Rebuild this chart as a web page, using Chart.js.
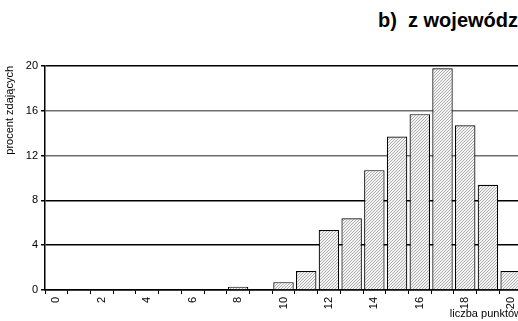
<!DOCTYPE html>
<html>
<head>
<meta charset="utf-8">
<script src="https://cdn.jsdelivr.net/npm/chart.js@4"></script>
<style>
    html, body { margin: 0; padding: 0; background: #fff; overflow: hidden; width: 518px; height: 321px; }
    #tytul { position: absolute; left: 378px; top: 10px; font: bold 20px/20px "Liberation Sans", Arial, sans-serif; white-space: pre; color: #000; }
    #kontener { position: absolute; left: 0; top: 0; width: 530px; height: 321px; }
</style>
</head>
<body>
<div id="tytul">b)  z województwa</div>
<div id="kontener"><canvas id="wykres"></canvas></div>
<script>
// dane
const kategorie = ['0', '1', '2', '3', '4', '5', '6', '7', '8', '9', '10', '11', '12', '13', '14', '15', '16', '17', '18', '19', '20'];
const procent = [0, 0, 0, 0, 0, 0, 0, 0, 0.3, 0, 0.7, 1.7, 5.35, 6.4, 10.7, 13.7, 15.7, 19.8, 14.7, 9.4, 1.7];
const podzialkaY = [0, 4, 8, 12, 16, 20];

function wzorKreskowania() {
    const c = document.createElement('canvas');
    c.width = 3;
    c.height = 3;
    const g = c.getContext('2d');
    g.fillStyle = '#f4f4f4';
    g.fillRect(0, 0, 3, 3);
    g.strokeStyle = '#9a9a9a';
    g.lineWidth = 0.8;
    g.beginPath();
    g.moveTo(0, 3); g.lineTo(3, 0);
    g.moveTo(-1, 1); g.lineTo(1, -1);
    g.moveTo(2, 4); g.lineTo(4, 2);
    g.stroke();
    return g.createPattern(c, 'repeat');
}

const czcionka = { family: '"Liberation Sans", Arial, sans-serif', size: 11 };

new Chart(document.getElementById('wykres'), {
    type: 'bar',
    data: {
        labels: kategorie,
        datasets: [{
            data: procent,
            backgroundColor: wzorKreskowania(),
            borderColor: '#000',
            borderWidth: 1.2,
            barPercentage: 0.9,
            categoryPercentage: 1
        }]
    },
    options: {
        responsive: true,
        maintainAspectRatio: false,
        animation: false,
        layout: { padding: { top: 66, right: 8, left: 0, bottom: 0 } },
        plugins: { legend: { display: false }, tooltip: { enabled: false } },
        scales: {
            x: {
                offset: true,
                afterFit: s => { s.height = 31; },
                grid: { offset: true, drawOnChartArea: false, color: '#000', tickLength: 4 },
                border: { color: '#000', width: 1.5 },
                ticks: {
                    color: '#000',
                    font: czcionka,
                    autoSkip: false,
                    minRotation: 90,
                    maxRotation: 90,
                    padding: 3,
                    callback: function (v, i) { return i % 2 === 0 ? kategorie[i] : ''; }
                },
                title: { display: true, text: 'liczba punktów', align: 'end', color: '#000', font: czcionka, padding: { top: 0, bottom: 0 } }
            },
            y: {
                min: 0,
                max: 20,
                afterBuildTicks: s => { s.ticks = podzialkaY.map(v => ({ value: v })); },
                afterFit: s => { s.width = 45; },
                grid: {
                    color: c => (c.tick.value === 12 || c.tick.value === 16) ? '#6e6e6e' : '#000',
                    tickColor: '#000',
                    tickLength: 4,
                    lineWidth: 1.5
                },
                border: { color: '#000', width: 1.5 },
                ticks: { color: '#000', font: czcionka, padding: 3 },
                title: { display: true, text: 'procent zdających', align: 'end', color: '#000', font: { family: '"Liberation Sans", Arial, sans-serif', size: 11 }, padding: { top: 3, bottom: 0 } }
            }
        }
    }
});
</script>
</body>
</html>
